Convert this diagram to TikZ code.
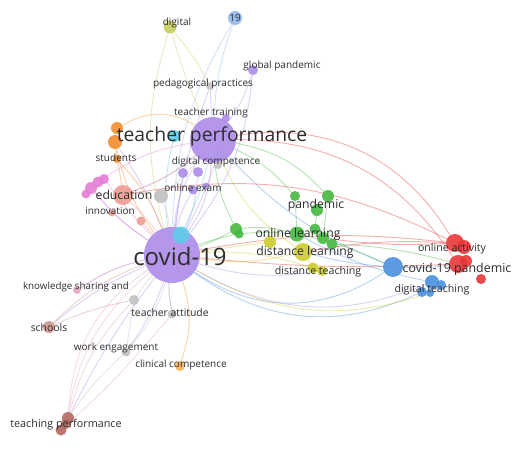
\documentclass[tikz,border=0pt]{standalone}
\usepackage{fontspec}
\setmainfont{Open Sans}
\pgfdeclarelayer{canvas}
\pgfdeclarelayer{edges}
\pgfsetlayers{canvas,edges,main}

% cluster colours
\definecolor{cpurple}{RGB}{172,140,232}
\definecolor{ccyan}{RGB}{95,205,232}
\definecolor{corange}{RGB}{242,140,45}
\definecolor{cmagenta}{RGB}{230,125,215}
\definecolor{csalmon}{RGB}{240,155,145}
\definecolor{cgrey}{RGB}{192,192,192}
\definecolor{cgreen}{RGB}{70,185,65}
\definecolor{cyellow}{RGB}{205,205,45}
\definecolor{cblue}{RGB}{75,145,222}
\definecolor{cred}{RGB}{232,55,55}
\definecolor{cbrown}{RGB}{178,105,95}
\definecolor{crose}{RGB}{205,150,140}
\definecolor{colive}{RGB}{200,205,95}
\definecolor{csky}{RGB}{145,185,235}
\definecolor{cpink}{RGB}{232,165,195}
\definecolor{cclin}{RGB}{245,180,90}
\definecolor{lblgray}{RGB}{45,45,45}

\tikzset{
  kw/.style={circle, inner sep=0pt, minimum size=#1, fill opacity=0.9},
  lbl/.style={inner sep=0pt, text=lblgray, font=\fontsize{#1}{#1}\selectfont},
  link/.style={draw=#1, line width=0.9pt, draw opacity=0.4},
}

\begin{document}
\begin{tikzpicture}[x=1pt, y=-1pt]
  \begin{pgfonlayer}{canvas}
    \fill[white] (0,0) rectangle (512,461);
  \end{pgfonlayer}
  \useasboundingbox (0,0) rectangle (512,461);

  % purple cluster
  \node[kw=46, fill=cpurple] (tp) at (213,140) {};
  \node[kw=56, fill=cpurple] (cv) at (172,255) {};
  \node[kw=17, fill=ccyan] (cyA) at (181,235) {};
  \node[kw=12, fill=ccyan] (cyB) at (174,136) {};
  \node[kw=8, fill=cpurple] (ttr) at (226,118) {};
  \node[kw=10, fill=cpurple] (dc1) at (183,173) {};
  \node[kw=10, fill=cpurple] (dc2) at (198,172) {};
  \node[kw=8, fill=cgrey] (dcg) at (218,165) {};
  \node[kw=9, fill=cpurple] (oex) at (193,190) {};
  \node[kw=7, fill=cpurple] (oex2) at (206,186) {};
  \node[kw=10, fill=cpurple] (gp) at (253,70) {};
  \node[kw=8, fill=cgrey] (pp) at (210,86) {};
  \node[kw=14, fill=csky] (n19) at (235,18) {};
  \node[kw=13, fill=colive] (dig) at (170,27) {};

  % orange, magenta, salmon
  \node[kw=12, fill=corange] (or1) at (117,128) {};
  \node[kw=14, fill=corange] (or2) at (115,142) {};
  \node[kw=8, fill=corange] (st) at (117,159) {};
  \node[kw=12, fill=cmagenta] (pk1) at (91,188) {};
  \node[kw=11, fill=cmagenta] (pk2) at (98,182) {};
  \node[kw=10, fill=cmagenta] (pk3) at (104,179) {};
  \node[kw=9, fill=cmagenta] (pk4) at (86,194) {};
  \node[kw=20, fill=csalmon] (ed) at (123,195) {};
  \node[kw=9, fill=csalmon] (sa1) at (141,221) {};
  \node[kw=7, fill=csalmon] (inn) at (112,213) {};
  \node[kw=14, fill=cgrey] (gr1) at (161,196) {};

  % lower left
  \node[kw=8, fill=cpink] (ks) at (77,290) {};
  \node[kw=10, fill=cgrey] (gr2) at (134,300) {};
  \node[kw=9, fill=cgrey] (ta) at (172,314) {};
  \node[kw=12, fill=crose] (sch) at (49,327) {};
  \node[kw=9, fill=cgrey] (we) at (126,352) {};
  \node[kw=10, fill=cclin] (cc) at (180,366) {};
  \node[kw=12, fill=cbrown] (tpf1) at (68,418) {};
  \node[kw=11, fill=cbrown] (tpf2) at (61,430) {};
  \node[kw=10, fill=cbrown] (tpf3) at (66,424) {};

  % green and yellow
  \node[kw=12, fill=cgreen] (g1) at (236,229) {};
  \node[kw=9, fill=cgreen] (g2) at (239,234) {};
  \node[kw=10, fill=cgreen] (g3) at (295,196) {};
  \node[kw=12, fill=cgreen] (g4) at (328,196) {};
  \node[kw=12, fill=cgreen] (g5) at (317,210) {};
  \node[kw=15, fill=cgreen] (g6) at (297,234) {};
  \node[kw=11, fill=cgreen] (g7) at (315,229) {};
  \node[kw=12, fill=cgreen] (g8) at (323,238) {};
  \node[kw=11, fill=cgreen] (g9) at (332,244) {};
  \node[kw=12, fill=cyellow] (y1) at (270,242) {};
  \node[kw=18, fill=cyellow] (y2) at (303,252) {};
  \node[kw=11, fill=cyellow] (y3) at (313,268) {};
  \node[kw=10, fill=cyellow] (y4) at (322,271) {};

  % blue and red
  \node[kw=20, fill=cblue] (b1) at (393,267) {};
  \node[kw=14, fill=cblue] (b2) at (432,282) {};
  \node[kw=10, fill=cblue] (b3) at (441,285) {};
  \node[kw=10, fill=cblue] (b4) at (422,292) {};
  \node[kw=8, fill=cblue] (b5) at (430,293) {};
  \node[kw=18, fill=cred] (r1) at (455,243) {};
  \node[kw=14, fill=cred] (r2) at (464,247) {};
  \node[kw=18, fill=cred] (r3) at (458,264) {};
  \node[kw=12, fill=cred] (r4) at (466,261) {};
  \node[kw=10, fill=cred] (r5) at (481,279) {};

  % links
  \begin{pgfonlayer}{edges}
    \foreach \s/\t/\b/\c in {
      tp/r1/34/cred, tp/r3/28/cred, cv/r1/8/cred, cv/r3/-4/cred,
      r1/g8/5/cred, r1/y2/-6/cred, ed/r1/18/cred,
      cv/b1/-34/cblue, cv/b4/-30/cblue, tp/b1/-12/cblue, b1/y2/5/cblue,
      b1/r3/-5/cblue, b2/g6/8/cblue, n19/cv/-14/csky, n19/tp/-8/csky,
      g1/g6/10/cgreen, g1/cv/5/cgreen, cv/g6/12/cgreen, tp/g3/12/cgreen,
      tp/g4/18/cgreen, g6/b1/6/cgreen, g3/g6/0/cgreen, g4/g8/0/cgreen,
      g1/tp/10/cgreen, g5/g7/0/cgreen, g9/r3/6/cgreen,
      y2/cv/10/cyellow, y3/cv/-10/cyellow, tp/y2/-16/cyellow,
      y1/cv/0/cyellow, y2/g6/0/cyellow, y3/y2/0/cyellow, cv/b5/-24/cyellow,
      dig/cv/-16/colive, dig/pp/6/colive, dig/tp/-4/colive,
      gp/tp/10/cpurple, gp/cv/16/cpurple, pp/tp/0/cpurple, pp/cv/-6/cpurple,
      tp/cv/15/cpurple, tp/cv/-15/cpurple, ttr/cv/8/cpurple,
      dc1/cv/0/cpurple, oex/cv/-8/cpurple, dc2/cv/10/cpurple,
      cv/ks/-10/cpurple, cv/sch/-8/cpurple, cv/ta/-6/cpurple,
      cv/we/8/cpurple, cv/tpf1/-5/cpurple, cv/or2/-6/cpurple,
      cv/pk1/8/cpurple, tp/ed/10/cpurple, cv/y4/-12/cpurple, cv/b2/-26/cpurple,
      cyA/tp/-6/ccyan, cyB/cv/-10/ccyan,
      or1/tp/32/corange, or2/cv/-12/corange, or2/ed/0/corange,
      st/cv/10/corange, cc/cv/-18/corange,
      pk1/cv/-8/cmagenta, pk2/tp/12/cmagenta, pk3/cv/-4/cmagenta,
      ed/cv/6/csalmon, ed/tp/-10/csalmon, sa1/cv/0/csalmon,
      ks/cv/10/cpink, tpf1/cv/26/cpink, tpf3/cv/20/cpink,
      tpf1/gr2/14/cpink, tpf2/ta/-4/cpink, sch/gr2/6/crose, sch/cv/12/crose,
      gr2/cv/4/cgrey, ta/cv/6/cgrey, we/cv/-12/cgrey, we/gr2/0/cgrey,
      gr1/cv/6/cgrey, gr1/tp/-6/cgrey, we/tpf1/-6/cgrey}
      \draw[link=\c] (\s) to[bend left=\b] (\t);
  \end{pgfonlayer}

  % labels
  \node[lbl=19.3] (tp-l) at (212,136) {teacher performance};
  \node[lbl=24] (cv-l) at (180,256) {covid-19};
  \node[lbl=10] (ttr-l) at (211,113) {teacher training};
  \node[lbl=10] (dc-l) at (216,162) {digital competence};
  \node[lbl=10] (oex-l) at (193,188) {online exam};
  \node[lbl=10] (gp-l) at (282,66) {global pandemic};
  \node[lbl=10] (pp-l) at (203,84) {pedagogical practices};
  \node[lbl=10] (n19-l) at (235,18) {19};
  \node[lbl=10] (dig-l) at (177,23) {digital};
  \node[lbl=10] (st-l) at (116,158) {students};
  \node[lbl=12.2] (ed-l) at (124,195) {education};
  \node[lbl=10] (inn-l) at (110,211) {innovation};
  \node[lbl=12.2] (g-l) at (316,205) {pandemic};
  \node[lbl=12.2] (ol-l) at (298,234) {online learning};
  \node[lbl=12.2] (dl-l) at (305,252) {distance learning};
  \node[lbl=10.6] (dt-l) at (318,272) {distance teaching};
  \node[lbl=10.6] (oa-l) at (452,249) {online activity};
  \node[lbl=12.4] (cp-l) at (457,269) {covid-19 pandemic};
  \node[lbl=10.6] (dte-l) at (432,290) {digital teaching};
  \node[lbl=9.8] (ks-l) at (76,287) {knowledge sharing and};
  \node[lbl=10.4] (ta-l) at (170,313) {teacher attitude};
  \node[lbl=10.4] (sch-l) at (49,328) {schools};
  \node[lbl=10] (we-l) at (116,348) {work engagement};
  \node[lbl=10] (cc-l) at (181,365) {clinical competence};
  \node[lbl=10.8] (tpf-l) at (66,425) {teaching performance};
\end{tikzpicture}
\end{document}
